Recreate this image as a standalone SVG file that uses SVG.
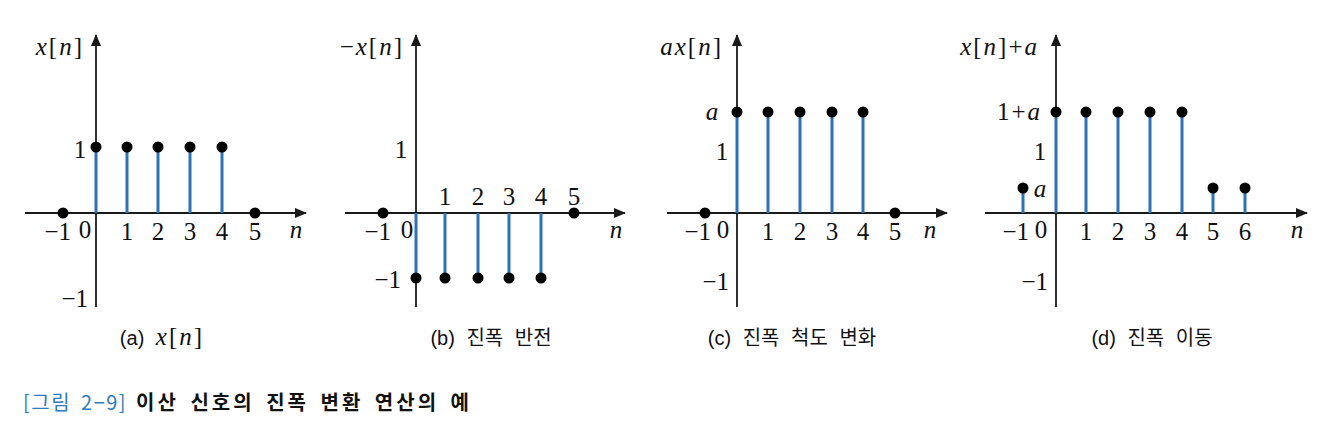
<svg xmlns="http://www.w3.org/2000/svg" width="1342" height="436" viewBox="0 0 1342 436">
<defs>
<marker id="arr" viewBox="0 0 12 10" refX="11" refY="5" markerWidth="12" markerHeight="10" markerUnits="userSpaceOnUse" orient="auto">
<path d="M0,0 L12,5 L0,10 Z" fill="#1a1a1a"/>
</marker>
<style>
.ax{stroke:#1a1a1a;stroke-width:1.8;fill:none}
.st{stroke:#2b73b5;stroke-width:3;fill:none}
.dot{fill:#000}
.m{font-family:"Liberation Serif","DejaVu Serif",serif;font-size:25px;fill:#111}
.lb{letter-spacing:2px}
.i{font-style:italic}
.c{text-anchor:middle}
.r{text-anchor:end}
.cap{font-family:"Liberation Sans","Noto Sans CJK KR",sans-serif;font-size:20px;fill:#111;word-spacing:6px}
.fig{font-family:"Noto Sans CJK KR","Liberation Sans",sans-serif;font-size:20px;letter-spacing:1.5px;word-spacing:4px}
</style>
</defs>
<rect width="1342" height="436" fill="#fff"/>

<g id="panel-a">
<line class="ax" x1="25" y1="213" x2="306" y2="213" marker-end="url(#arr)"/>
<line class="ax" x1="96" y1="307" x2="96" y2="35" marker-end="url(#arr)"/>
<g class="stems">
<line class="st" x1="96" y1="213" x2="96" y2="147"/>
<line class="st" x1="127" y1="213" x2="127" y2="147"/>
<line class="st" x1="158" y1="213" x2="158" y2="147"/>
<line class="st" x1="190" y1="213" x2="190" y2="147"/>
<line class="st" x1="222" y1="213" x2="222" y2="147"/>
</g>
<circle class="dot" cx="63" cy="213" r="5.5"/>
<circle class="dot" cx="96" cy="147" r="5.5"/>
<circle class="dot" cx="127" cy="147" r="5.5"/>
<circle class="dot" cx="158" cy="147" r="5.5"/>
<circle class="dot" cx="190" cy="147" r="5.5"/>
<circle class="dot" cx="222" cy="147" r="5.5"/>
<circle class="dot" cx="255" cy="213" r="5.5"/>
<text class="m lb r" x="84" y="55"><tspan class="i">x</tspan>[<tspan class="i">n</tspan>]</text>
<text class="m c" x="80" y="158">1</text>
<text class="m r" x="88" y="307">−1</text>
<text class="m r" x="71" y="240">−1</text>
<text class="m c" x="85" y="238">0</text>
<text class="m c" x="127" y="240">1</text>
<text class="m c" x="158" y="240">2</text>
<text class="m c" x="190" y="240">3</text>
<text class="m c" x="222" y="240">4</text>
<text class="m c" x="255" y="240">5</text>
<text class="m c i" x="296" y="238">n</text>
<text class="cap c" x="161" y="345">(a) <tspan class="m i" font-size="24">x</tspan><tspan class="m" font-size="24" dx="2">[</tspan><tspan class="m i" font-size="24" dx="2">n</tspan><tspan class="m" font-size="24" dx="2">]</tspan></text>
</g>

<g id="panel-b">
<line class="ax" x1="345" y1="213" x2="625" y2="213" marker-end="url(#arr)"/>
<line class="ax" x1="416" y1="307" x2="416" y2="35" marker-end="url(#arr)"/>
<line class="st" x1="416" y1="213" x2="416" y2="278"/>
<line class="st" x1="445" y1="213" x2="445" y2="278"/>
<line class="st" x1="478" y1="213" x2="478" y2="278"/>
<line class="st" x1="509" y1="213" x2="509" y2="278"/>
<line class="st" x1="541" y1="213" x2="541" y2="278"/>
<circle class="dot" cx="383" cy="213" r="5.5"/>
<circle class="dot" cx="574" cy="213" r="5.5"/>
<circle class="dot" cx="416" cy="278" r="5.5"/>
<circle class="dot" cx="445" cy="278" r="5.5"/>
<circle class="dot" cx="478" cy="278" r="5.5"/>
<circle class="dot" cx="509" cy="278" r="5.5"/>
<circle class="dot" cx="541" cy="278" r="5.5"/>
<text class="m lb r" x="404" y="55">−<tspan class="i">x</tspan>[<tspan class="i">n</tspan>]</text>
<text class="m c" x="401" y="158">1</text>
<text class="m c" x="445" y="205">1</text>
<text class="m c" x="478" y="205">2</text>
<text class="m c" x="509" y="205">3</text>
<text class="m c" x="541" y="205">4</text>
<text class="m c" x="574" y="205">5</text>
<text class="m r" x="391" y="240">−1</text>
<text class="m c" x="407" y="238">0</text>
<text class="m c i" x="616" y="238">n</text>
<text class="m r" x="401" y="288">−1</text>
<text class="cap c" x="491" y="345">(b) 진폭 반전</text>
</g>

<g id="panel-c">
<line class="ax" x1="667" y1="213" x2="947" y2="213" marker-end="url(#arr)"/>
<line class="ax" x1="737" y1="307" x2="737" y2="35" marker-end="url(#arr)"/>
<line class="st" x1="737" y1="213" x2="737" y2="112"/>
<line class="st" x1="768" y1="213" x2="768" y2="112"/>
<line class="st" x1="800" y1="213" x2="800" y2="112"/>
<line class="st" x1="832" y1="213" x2="832" y2="112"/>
<line class="st" x1="863" y1="213" x2="863" y2="112"/>
<circle class="dot" cx="705" cy="213" r="5.5"/>
<circle class="dot" cx="895" cy="213" r="5.5"/>
<circle class="dot" cx="737" cy="112" r="5.5"/>
<circle class="dot" cx="768" cy="112" r="5.5"/>
<circle class="dot" cx="800" cy="112" r="5.5"/>
<circle class="dot" cx="832" cy="112" r="5.5"/>
<circle class="dot" cx="863" cy="112" r="5.5"/>
<text class="m lb r" x="723" y="55"><tspan class="i">ax</tspan>[<tspan class="i">n</tspan>]</text>
<text class="m c i" x="712" y="120">a</text>
<text class="m c" x="722" y="160">1</text>
<text class="m r" x="729" y="290">−1</text>
<text class="m r" x="711" y="240">−1</text>
<text class="m c" x="723" y="238">0</text>
<text class="m c" x="768" y="240">1</text>
<text class="m c" x="800" y="240">2</text>
<text class="m c" x="832" y="240">3</text>
<text class="m c" x="863" y="240">4</text>
<text class="m c" x="895" y="240">5</text>
<text class="m c i" x="930" y="238">n</text>
<text class="cap c" x="792" y="345">(c) 진폭 척도 변화</text>
</g>

<g id="panel-d">
<line class="ax" x1="985" y1="213" x2="1307" y2="213" marker-end="url(#arr)"/>
<line class="ax" x1="1056" y1="307" x2="1056" y2="35" marker-end="url(#arr)"/>
<line class="st" x1="1023" y1="213" x2="1023" y2="188"/>
<line class="st" x1="1056" y1="213" x2="1056" y2="112"/>
<line class="st" x1="1086" y1="213" x2="1086" y2="112"/>
<line class="st" x1="1118" y1="213" x2="1118" y2="112"/>
<line class="st" x1="1150" y1="213" x2="1150" y2="112"/>
<line class="st" x1="1182" y1="213" x2="1182" y2="112"/>
<line class="st" x1="1213" y1="213" x2="1213" y2="188"/>
<line class="st" x1="1245" y1="213" x2="1245" y2="188"/>
<circle class="dot" cx="1023" cy="188" r="5.5"/>
<circle class="dot" cx="1056" cy="112" r="5.5"/>
<circle class="dot" cx="1086" cy="112" r="5.5"/>
<circle class="dot" cx="1118" cy="112" r="5.5"/>
<circle class="dot" cx="1150" cy="112" r="5.5"/>
<circle class="dot" cx="1182" cy="112" r="5.5"/>
<circle class="dot" cx="1213" cy="188" r="5.5"/>
<circle class="dot" cx="1245" cy="188" r="5.5"/>
<text class="m lb r" x="1039" y="55"><tspan class="i">x</tspan>[<tspan class="i">n</tspan>]+<tspan class="i">a</tspan></text>
<text class="m lb r" x="1042" y="120">1+<tspan class="i">a</tspan></text>
<text class="m c" x="1040" y="160">1</text>
<text class="m c i" x="1040" y="197">a</text>
<text class="m r" x="1048" y="290">−1</text>
<text class="m r" x="1029" y="240">−1</text>
<text class="m c" x="1041" y="238">0</text>
<text class="m c" x="1086" y="240">1</text>
<text class="m c" x="1118" y="240">2</text>
<text class="m c" x="1150" y="240">3</text>
<text class="m c" x="1182" y="240">4</text>
<text class="m c" x="1213" y="240">5</text>
<text class="m c" x="1245" y="240">6</text>
<text class="m c i" x="1297" y="238">n</text>
<text class="cap c" x="1152" y="345">(d) 진폭 이동</text>
</g>

<g id="figure-caption">
<text class="fig" x="23" y="410"><tspan fill="#2e7bbf">[그림 2−9]</tspan><tspan fill="#111" font-weight="bold" dx="9" letter-spacing="3px">이산 신호의 진폭 변환 연산의 예</tspan></text>
</g>
</svg>
